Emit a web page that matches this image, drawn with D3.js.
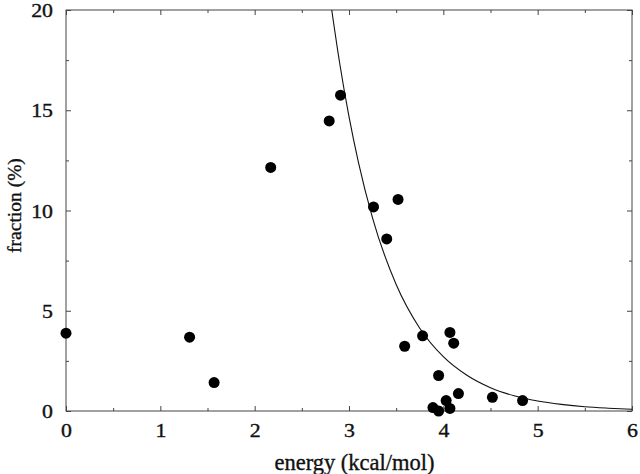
<!DOCTYPE html>
<html>
<head>
<meta charset="utf-8">
<script src="https://cdn.jsdelivr.net/npm/d3@7"></script>
<style>
  html, body { margin: 0; padding: 0; background: #fff; }
  svg { display: block; }
  svg text { font-family: "Times New Roman", Times, "Liberation Serif", serif !important; fill: #111; stroke: #111; stroke-width: 0.35px; }
</style>
</head>
<body>
<svg id="chart" width="640" height="474"></svg>
<script>
// ---- data ----
const energy   = [0.00, 1.31, 1.57, 2.17, 2.79, 2.91, 3.26, 3.40, 3.52, 3.59, 3.78, 3.95, 4.07, 4.11, 4.16, 4.03, 3.89, 3.95, 4.07, 4.52, 4.84];
const fraction = [3.88, 3.68, 1.42, 12.15, 14.47, 15.75, 10.18, 8.58, 10.55, 3.23, 3.75, 1.77, 3.92, 3.38, 0.87, 0.52, 0.17, 0.00, 0.13, 0.68, 0.52];

// reference curve
const curveX = [2.817, 2.90, 3.00, 3.10, 3.25, 3.50, 3.75, 4.00, 4.25, 4.50, 4.75, 5.00, 5.25, 5.50, 5.75, 6.00];
const curveY = [20.0, 17.38, 14.68, 12.40, 9.62, 6.31, 4.13, 2.71, 1.78, 1.16, 0.76, 0.50, 0.33, 0.21, 0.14, 0.09];

const xTicks = [0, 1, 2, 3, 4, 5, 6];
const xMinor = [0.5, 1.5, 2.5, 3.5, 4.5, 5.5];
const yTicks = [0, 5, 10, 15, 20];
const yMinor = [2.5, 7.5, 12.5, 17.5];

const xTitle = "energy (kcal/mol)";
const yTitle = "fraction (%)";

// ---- layout ----
const L = 66, R = 632, T = 10, B = 411;
const SX = 1.15; // horizontal stretch of the scanned tick lettering
const FS = 19;

const svg = d3.select("#chart");
const x = d3.scaleLinear().domain([0, 6]).range([L, R]);
const y = d3.scaleLinear().domain([0, 20]).range([B, T]);

const frameColor = "#444";

function styleAxis(g) {
  g.select(".domain").remove();
  g.attr("font-family", null);
  g.selectAll(".tick line").attr("stroke", frameColor).attr("stroke-width", 1);
}

// major / minor ticks, inward, on all four sides
svg.append("g").attr("transform", `translate(0,${B})`)
  .call(d3.axisBottom(x).tickValues(xTicks).tickSize(-5).tickFormat(d3.format("d")))
  .call(styleAxis)
  .call(g => g.selectAll(".tick text")
    .attr("y", 0).attr("dy", 0)
    .attr("transform", `translate(0,26) scale(${SX},1)`)
    .attr("font-size", FS).attr("fill", "#111"));
svg.append("g").attr("transform", `translate(0,${B})`)
  .call(d3.axisBottom(x).tickValues(xMinor).tickSize(-3).tickFormat(""))
  .call(styleAxis);
svg.append("g").attr("transform", `translate(0,${T})`)
  .call(d3.axisTop(x).tickValues(xTicks).tickSize(-5).tickFormat(""))
  .call(styleAxis);
svg.append("g").attr("transform", `translate(0,${T})`)
  .call(d3.axisTop(x).tickValues(xMinor).tickSize(-3).tickFormat(""))
  .call(styleAxis);

svg.append("g").attr("transform", `translate(${L},0)`)
  .call(d3.axisLeft(y).tickValues(yTicks).tickSize(-5).tickFormat(d3.format("d")))
  .call(styleAxis)
  .call(g => g.selectAll(".tick text")
    .attr("x", 0).attr("dy", 0).attr("text-anchor", "end")
    .attr("transform", `translate(-13,6.5) scale(${SX},1)`)
    .attr("font-size", FS).attr("fill", "#111"));
svg.append("g").attr("transform", `translate(${L},0)`)
  .call(d3.axisLeft(y).tickValues(yMinor).tickSize(-3).tickFormat(""))
  .call(styleAxis);
svg.append("g").attr("transform", `translate(${R},0)`)
  .call(d3.axisRight(y).tickValues(yTicks).tickSize(-5).tickFormat(""))
  .call(styleAxis);
svg.append("g").attr("transform", `translate(${R},0)`)
  .call(d3.axisRight(y).tickValues(yMinor).tickSize(-3).tickFormat(""))
  .call(styleAxis);

// frame
svg.append("rect")
  .attr("x", L).attr("y", T).attr("width", R - L).attr("height", B - T)
  .attr("fill", "none").attr("stroke", frameColor).attr("stroke-width", 1);

// clip
svg.append("clipPath").attr("id", "plotclip")
  .append("rect").attr("x", L).attr("y", T).attr("width", R - L).attr("height", B - T);

// curve
const curveData = curveX.map((cx, i) => [cx, curveY[i]]);
svg.append("path")
  .datum(curveData)
  .attr("clip-path", "url(#plotclip)")
  .attr("fill", "none")
  .attr("stroke", "#111")
  .attr("stroke-width", 1.1)
  .attr("d", d3.line().x(d => x(d[0])).y(d => y(d[1])).curve(d3.curveMonotoneX));

// points
svg.append("g").selectAll("circle")
  .data(energy.map((e, i) => [e, fraction[i]]))
  .join("circle")
  .attr("cx", d => x(d[0]))
  .attr("cy", d => y(d[1]))
  .attr("r", 5.5)
  .attr("fill", "#000");

// axis titles
svg.append("text")
  .attr("text-anchor", "middle")
  .attr("font-size", 22.5)
  .attr("transform", `translate(354.5,470)`)
  .text(xTitle);

svg.append("text")
  .attr("text-anchor", "middle")
  .attr("font-size", 19.5)
  .attr("transform", `translate(21,205.5) rotate(-90)`)
  .text(yTitle);
</script>
</body>
</html>
